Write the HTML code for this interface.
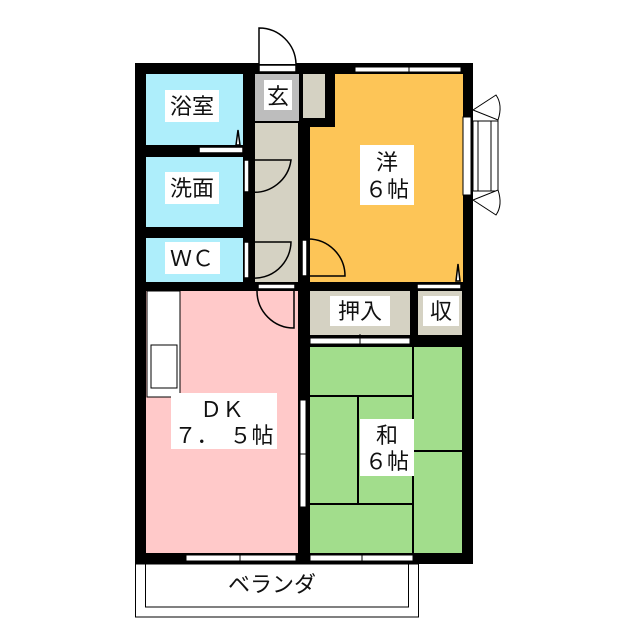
<!DOCTYPE html>
<html><head><meta charset="utf-8"><style>
html,body{margin:0;padding:0;background:#fff;width:640px;height:640px;overflow:hidden}
svg{display:block}
text{font-family:"Liberation Sans","Noto Sans CJK JP",sans-serif;font-size:22px;fill:#111;text-anchor:middle}
</style></head><body>
<svg width="640" height="640" viewBox="0 0 640 640">
<rect x="0" y="0" width="640" height="640" fill="#fff"/>
<rect x="135" y="63" width="338" height="501" fill="#000"/>
<rect x="146" y="74" width="97" height="71" fill="#aeeefb"/>
<rect x="146" y="157" width="97" height="70" fill="#aeeefb"/>
<rect x="146" y="238" width="97" height="44" fill="#aeeefb"/>
<rect x="255" y="74" width="44" height="47" fill="#bdbdbd"/>
<rect x="303" y="74" width="22" height="44" fill="#d5d2c3"/>
<rect x="255" y="123" width="43" height="159" fill="#d5d2c3"/>
<path d="M310 127 H335 V74 H463 V282 H310 Z" fill="#fdc557"/>
<rect x="146" y="291" width="152" height="262" fill="#ffc9c9"/>
<rect x="310" y="291" width="100" height="44" fill="#d5d2c3"/>
<rect x="418" y="291" width="44" height="44" fill="#d5d2c3"/>
<rect x="310" y="347" width="152" height="206" fill="#a2dd8c"/>
<g stroke="#000" stroke-width="2" fill="none">
<line x1="413" y1="347" x2="413" y2="553"/>
<line x1="310" y1="396" x2="413" y2="396"/>
<line x1="358" y1="396" x2="358" y2="504"/>
<line x1="310" y1="504" x2="413" y2="504"/>
<line x1="413" y1="451" x2="462" y2="451"/>
</g>
<rect x="147" y="291" width="33" height="106" fill="#fff" stroke="#000" stroke-width="1"/>
<rect x="151" y="345" width="26" height="43" fill="#fff" stroke="#000" stroke-width="1"/>
<rect x="135.5" y="564" width="283" height="53" fill="#fff" stroke="#000" stroke-width="1"/>
<rect x="145.5" y="564" width="263" height="43" fill="#fff" stroke="#000" stroke-width="1"/>
<g fill="#fff" stroke="#000" stroke-width="1">
<rect x="355" y="67" width="106" height="5"/>
<rect x="186" y="555" width="110" height="6"/>
<rect x="310" y="555" width="103" height="6"/>
<rect x="310" y="338" width="100" height="6"/>
<rect x="300" y="400" width="6" height="107"/>
<rect x="463" y="117" width="8" height="78"/>
</g>
<g stroke="#000" stroke-width="1">
<line x1="409" y1="64" x2="409" y2="74"/>
<line x1="240" y1="553" x2="240" y2="563"/>
<line x1="362" y1="553" x2="362" y2="563"/>
<line x1="360" y1="334" x2="360" y2="346"/>
<line x1="298" y1="454" x2="308" y2="454"/>
</g>
<g fill="#fff" stroke="#000" stroke-width="1">
<rect x="473" y="121" width="25" height="70"/>
<line x1="478" y1="121" x2="478" y2="191"/>
<line x1="491" y1="121" x2="491" y2="191"/>
<path d="M473 110 L496 95 Q503 105 498 120 Z"/>
<path d="M473 200 L496 215 Q503 205 498 190 Z"/>
</g>
<g fill="#fff" stroke="#000" stroke-width="1.5">
<rect x="259" y="65" width="37" height="7"/>
<path d="M259 64 V28 A37 37 0 0 1 296 64" fill="#fff"/>
<rect x="199" y="147" width="44" height="6"/>
<rect x="244" y="160" width="5" height="32"/>
<path d="M250 192 A37 37 0 0 0 291 160 H250" fill="none"/>
<rect x="244" y="242" width="5" height="36"/>
<path d="M250 278 A37 37 0 0 0 291 242 H250" fill="none"/>
<rect x="302" y="240" width="5" height="36"/>
<path d="M308 276 H345 A37 37 0 0 0 308 239" fill="none"/>
<rect x="258" y="284" width="37" height="5"/>
<path d="M257 291 A37 37 0 0 0 294 328 V291" fill="none"/>
<rect x="417" y="284" width="44" height="5"/>
<path d="M236 145 L238 130 L240 145 Z" fill="#fff"/>
<path d="M456 281 L458 264 L460 281 Z" fill="#fff"/>
</g>
<g fill="#fff">
<rect x="165" y="90" width="54" height="32"/>
<rect x="165" y="172" width="54" height="32"/>
<rect x="165" y="242" width="55" height="32"/>
<rect x="264" y="80" width="28" height="30"/>
<rect x="360" y="145" width="54" height="60"/>
<rect x="330" y="296" width="60" height="30"/>
<rect x="423" y="296" width="36" height="30"/>
<rect x="171" y="393" width="106" height="56"/>
<rect x="360" y="419" width="54" height="57"/>
</g>
<text x="192" y="114">浴室</text>
<text x="192" y="196">洗面</text>
<text x="192" y="266">ＷＣ</text>
<text x="278" y="104">玄</text>
<text x="387" y="170">洋</text>
<text x="387" y="197">６帖</text>
<text x="360" y="319">押入</text>
<text x="441" y="319">収</text>
<text x="222" y="417">ＤＫ</text>
<text x="224" y="443">７．　５帖</text>
<text x="387" y="443">和</text>
<text x="387" y="469">６帖</text>
<text x="272" y="592">ベランダ</text>
</svg>
</body></html>
